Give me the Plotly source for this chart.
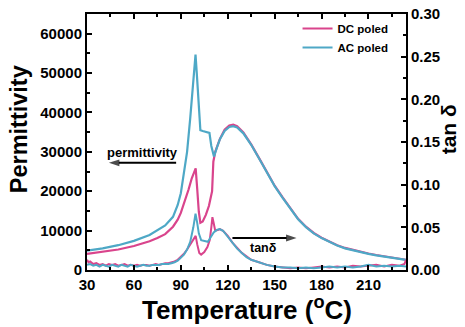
import plotly.graph_objects as go

# ---- Data ----
t_perm_dc = [30, 40, 50, 60, 70, 75, 80, 85, 88, 90, 92, 95, 97, 99.5, 100.5, 101.5, 102.5, 104, 106, 108, 110, 110.8, 112, 115, 118, 121, 123.5, 126, 130, 135, 140.5, 145, 150, 155, 160, 165, 170, 175, 180, 185, 190, 195, 200, 205, 210, 215, 220, 226, 234]
perm_dc = [4100, 4600, 5200, 6100, 7300, 8100, 9100, 11000, 12800, 14500, 16800, 20500, 23300, 25800, 20500, 14800, 12000, 12300, 14000, 16300, 20000, 27500, 30000, 33300, 35600, 36700, 36900, 36500, 34900, 31900, 28100, 24900, 21400, 18500, 15600, 13000, 11000, 9400, 8200, 7200, 6300, 5600, 5100, 4600, 4200, 3800, 3450, 3050, 2600]

t_perm_ac = [30, 40, 50, 60, 70, 75, 80, 85, 88, 90, 92, 94, 96, 98, 99.4, 100.2, 101.5, 102.5, 104, 106, 108.3, 109.5, 111.2, 113, 115, 118, 121, 123.5, 126, 130, 135, 140.5, 145, 150, 155, 160, 165, 170, 175, 180, 185, 190, 195, 200, 205, 210, 215, 220, 226, 234]
perm_ac = [4900, 5500, 6300, 7400, 8900, 10000, 11300, 13500, 16500, 19500, 24500, 30000, 38500, 48000, 54700, 50000, 40000, 35500, 35300, 35000, 34800, 31500, 28800, 31000, 33200, 35300, 36300, 36500, 36200, 34700, 31800, 28000, 24800, 21300, 18400, 15500, 12900, 10900, 9300, 8100, 7100, 6200, 5500, 5000, 4600, 4100, 3700, 3400, 3000, 2550]

t_tan_dc = [30, 31, 32, 34, 36, 38, 40, 42, 44, 46, 48, 50, 52, 54, 56, 58, 60, 62, 64, 66, 68, 70, 72, 74, 76, 78, 80, 82, 84, 86, 88, 90, 92, 94, 96, 98, 99.5, 100.5, 101.8, 103, 105, 107, 108.5, 109.5, 110.2, 111, 112, 114, 115, 117, 120, 123, 126, 129, 132, 135, 140, 145, 150, 155, 160, 165, 170, 175, 180, 185, 190, 195, 200, 205, 210, 215, 220, 225, 230, 233, 234]
tan_dc = [0.012, 0.009, 0.010, 0.007, 0.008, 0.006, 0.007, 0.005, 0.007, 0.006, 0.007, 0.005, 0.006, 0.007, 0.005, 0.006, 0.005, 0.006, 0.005, 0.006, 0.006, 0.005, 0.006, 0.007, 0.006, 0.007, 0.008, 0.008, 0.009, 0.010, 0.012, 0.015, 0.019, 0.024, 0.030, 0.036, 0.040, 0.030, 0.020, 0.018, 0.021, 0.027, 0.035, 0.050, 0.062, 0.055, 0.046, 0.047, 0.048, 0.046, 0.040, 0.032, 0.026, 0.020, 0.016, 0.012, 0.009, 0.006, 0.004, 0.003, 0.002, 0.003, 0.002, 0.003, 0.004, 0.003, 0.004, 0.003, 0.005, 0.004, 0.005, 0.006, 0.004, 0.006, 0.005, 0.007, 0.012]

t_tan_ac = [30, 32, 34, 36, 38, 40, 42, 44, 46, 48, 50, 52, 54, 56, 58, 60, 62, 64, 66, 68, 70, 72, 74, 76, 78, 80, 82, 84, 86, 88, 90, 92, 94, 96, 98, 99.4, 100.5, 101.5, 103, 105, 107.3, 109, 111, 113, 114.8, 117, 120, 123, 126, 129, 132, 135, 140, 145, 150, 155, 160, 165, 170, 175, 180, 185, 190, 195, 200, 205, 210, 215, 220, 225, 230, 234]
tan_ac = [0.006, 0.007, 0.005, 0.006, 0.004, 0.006, 0.005, 0.004, 0.006, 0.005, 0.004, 0.006, 0.005, 0.004, 0.006, 0.005, 0.004, 0.005, 0.006, 0.005, 0.005, 0.006, 0.006, 0.006, 0.007, 0.007, 0.007, 0.008, 0.009, 0.011, 0.014, 0.018, 0.024, 0.033, 0.050, 0.066, 0.055, 0.043, 0.035, 0.034, 0.033, 0.038, 0.044, 0.047, 0.048, 0.046, 0.039, 0.031, 0.025, 0.020, 0.015, 0.012, 0.009, 0.006, 0.004, 0.003, 0.003, 0.002, 0.003, 0.002, 0.003, 0.004, 0.003, 0.004, 0.003, 0.004, 0.006, 0.004, 0.005, 0.004, 0.005, 0.004]

x_ticks = [30, 60, 90, 120, 150, 180, 210]
y_ticks = [0, 10000, 20000, 30000, 40000, 50000, 60000]
y2_ticks = [0.00, 0.05, 0.10, 0.15, 0.20, 0.25, 0.30]

# arrow endpoints for the two in-plot labels (tail -> head)
perm_arrow_x = [87, 44]
perm_arrow_y = [27200, 27200]
tan_arrow_x = [123, 164]
tan_arrow_y = [0.0375, 0.0375]

PINK = "#d9448c"
BLUE = "#4ea8c6"
FONT = "Liberation Sans, Arial, sans-serif"

fig = go.Figure()
fig.add_trace(go.Scatter(x=t_perm_dc, y=perm_dc, mode="lines", name="DC poled",
                         line=dict(color=PINK, width=2.2), legendgroup="dc"))
fig.add_trace(go.Scatter(x=t_tan_dc, y=tan_dc, mode="lines", name="DC poled", showlegend=False,
                         line=dict(color=PINK, width=2), yaxis="y2", legendgroup="dc"))
fig.add_trace(go.Scatter(x=t_perm_ac, y=perm_ac, mode="lines", name="AC poled",
                         line=dict(color=BLUE, width=2.2), legendgroup="ac"))
fig.add_trace(go.Scatter(x=t_tan_ac, y=tan_ac, mode="lines", name="AC poled", showlegend=False,
                         line=dict(color=BLUE, width=2), yaxis="y2", legendgroup="ac"))

# arrows
fig.add_trace(go.Scatter(x=perm_arrow_x, y=perm_arrow_y, mode="lines+markers", showlegend=False,
                         hoverinfo="skip", line=dict(color="black", width=2),
                         marker=dict(symbol=["circle", "arrow"], size=[0, 11], angleref="previous",
                                     color="black", line=dict(width=0))))
fig.add_trace(go.Scatter(x=tan_arrow_x, y=tan_arrow_y, mode="lines+markers", showlegend=False,
                         hoverinfo="skip", yaxis="y2", line=dict(color="black", width=2),
                         marker=dict(symbol=["circle", "arrow"], size=[0, 11], angleref="previous",
                                     color="black", line=dict(width=0))))

tickfont = dict(family=FONT, size=15, color="black", weight="bold")
axis_common = dict(showline=True, linecolor="black", linewidth=2, ticks="inside",
                   ticklen=5, tickwidth=1.5, tickcolor="black", showgrid=False, zeroline=False,
                   tickfont=tickfont, automargin=False)

fig.update_layout(
    width=465, height=327,
    margin=dict(l=87, r=59, t=14, b=57),
    plot_bgcolor="white", paper_bgcolor="white",
    font=dict(family=FONT, color="black"),
    xaxis=dict(range=[30, 234], tickvals=x_ticks, mirror="ticks",
               minor=dict(dtick=15, tick0=30, ticks="inside", ticklen=3, tickwidth=1.5, tickcolor="black"),
               **axis_common),
    yaxis=dict(range=[0, 65000], tickvals=y_ticks, tickformat="d",
               minor=dict(dtick=5000, tick0=0, ticks="inside", ticklen=3, tickwidth=1.5, tickcolor="black"),
               **axis_common),
    yaxis2=dict(range=[0, 0.30], tickvals=y2_ticks, tickformat=".2f", overlaying="y", side="right",
                minor=dict(dtick=0.025, tick0=0, ticks="inside", ticklen=3, tickwidth=1.5, tickcolor="black"),
                **axis_common),
    legend=dict(x=0.66, y=1.0, xanchor="left", yanchor="top", bgcolor="rgba(0,0,0,0)",
                font=dict(family=FONT, size=11.5, weight="bold"), tracegroupgap=0, itemwidth=30),
    showlegend=True,
)

# axis titles
fig.add_annotation(x=0.502, y=-0.152, xref="paper", yref="paper", showarrow=False,
                   xanchor="center", yanchor="middle",
                   text="<b>Temperature (<sup>o</sup>C)</b>", font=dict(family=FONT, size=26, color="black"))
fig.add_annotation(x=-0.213, y=0.55, xref="paper", yref="paper", showarrow=False, textangle=-90,
                   xanchor="center", yanchor="middle",
                   text="<b>Permittivity</b>", font=dict(family=FONT, size=23.5, color="black"))
fig.add_annotation(x=1.132, y=0.55, xref="paper", yref="paper", showarrow=False, textangle=-90,
                   xanchor="center", yanchor="middle",
                   text="<b>tan δ</b>", font=dict(family=FONT, size=21, color="black"))

# in-plot labels
fig.add_annotation(x=65.5, y=29900, xref="x", yref="y", text="<b>permittivity</b>", showarrow=False,
                   xanchor="center", yanchor="middle",
                   font=dict(family=FONT, size=13, color="black"))
fig.add_annotation(x=143, y=0.0255, xref="x", yref="y2", text="<b>tanδ</b>", showarrow=False,
                   xanchor="center", yanchor="middle",
                   font=dict(family=FONT, size=12.5, color="black"))

fig.write_html("out.html", config={"displayModeBar": False},
               post_script="document.body.style.margin='0px';")
